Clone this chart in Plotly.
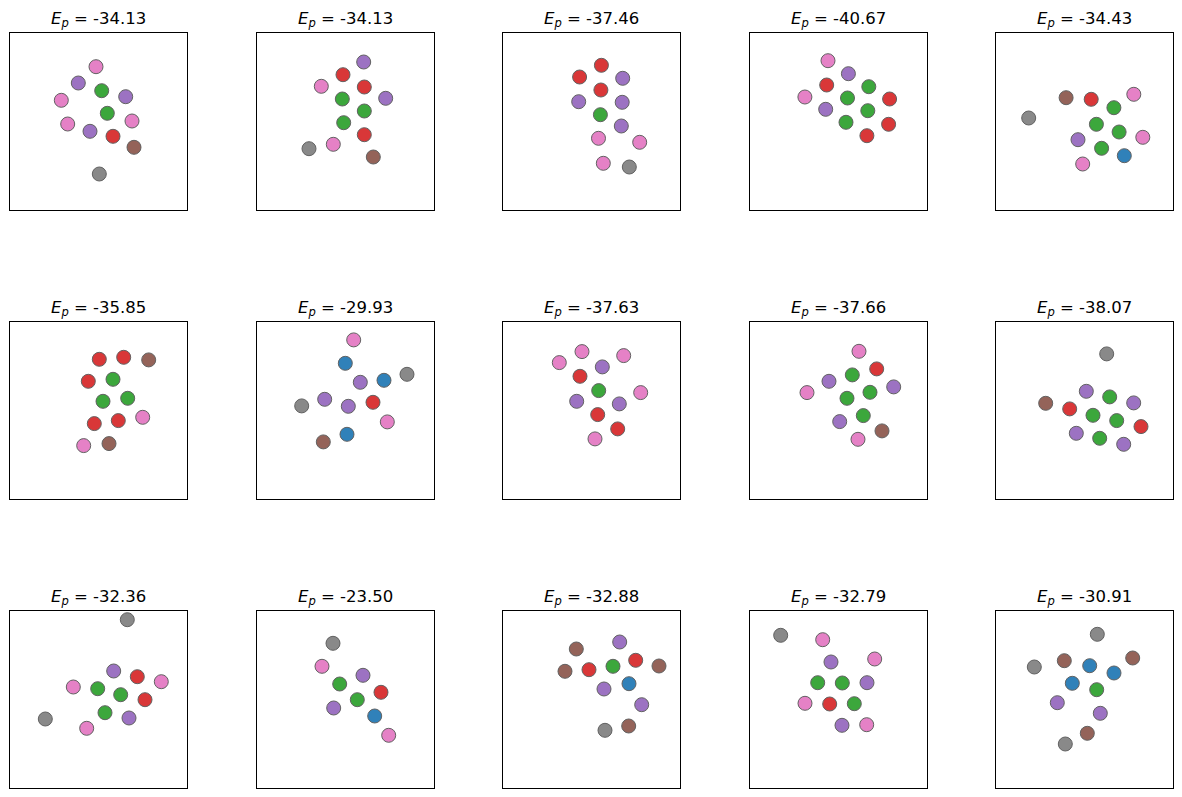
import plotly.graph_objects as go

# ---------------- data ----------------
energies = [-34.13, -34.13, -37.46, -40.67, -34.43,
            -35.85, -29.93, -37.63, -37.66, -38.07,
            -32.36, -23.50, -32.88, -32.79, -30.91]

# particle x positions per panel
panels_x = [
    [85.7, 68.0, 91.4, 115.4, 51.0, 97.0, 57.4, 121.7, 79.7, 102.7, 123.7, 89.0],
    [106.4, 85.7, 64.0, 107.0, 128.4, 85.0, 107.0, 86.4, 107.0, 76.0, 51.7, 116.0],
    [98.1, 76.3, 119.4, 97.6, 75.4, 118.9, 97.1, 118.0, 95.2, 136.4, 100.0, 126.0],
    [77.7, 98.1, 118.5, 76.4, 54.6, 97.2, 139.3, 75.4, 117.5, 95.7, 138.3, 116.6],
    [32.4, 69.8, 94.9, 137.5, 117.6, 100.1, 122.8, 146.5, 81.7, 105.3, 128.0, 86.4],
    [89.0, 113.4, 138.4, 78.0, 102.7, 92.7, 117.4, 132.4, 84.0, 108.0, 73.4, 98.7],
    [96.4, 88.0, 149.7, 103.0, 126.7, 67.4, 44.4, 91.0, 115.7, 130.0, 89.7, 66.0],
    [56.0, 78.7, 99.0, 120.4, 76.7, 95.4, 137.4, 73.4, 116.0, 94.4, 114.4, 91.7],
    [108.7, 126.4, 102.0, 78.7, 143.4, 56.7, 119.7, 96.7, 113.0, 89.4, 131.7, 107.7],
    [110.4, 90.0, 113.4, 137.4, 49.4, 73.4, 96.7, 120.4, 144.7, 80.0, 103.4, 127.4],
    [117.0, 103.4, 127.0, 151.0, 63.0, 87.4, 110.4, 134.7, 94.7, 118.7, 35.0, 76.4],
    [75.7, 64.7, 105.7, 82.4, 123.7, 100.0, 76.4, 117.4, 131.4],
    [116.4, 73.0, 132.4, 155.7, 109.7, 85.7, 61.7, 125.7, 100.7, 138.4, 125.4, 101.7],
    [30.4, 72.4, 124.4, 80.7, 67.4, 92.0, 116.7, 54.7, 79.4, 104.0, 91.7, 116.4],
    [101.0, 136.4, 68.0, 93.4, 38.0, 117.7, 76.0, 100.4, 61.0, 104.0, 91.0, 69.0],
]

# particle y positions per panel
panels_y = [
    [143.6, 127.3, 119.6, 113.6, 110.0, 97.0, 86.3, 89.3, 79.0, 74.0, 63.0, 36.3],
    [148.3, 135.6, 124.0, 123.3, 112.0, 111.3, 99.3, 87.6, 75.6, 66.0, 61.6, 53.3],
    [145.0, 133.3, 132.0, 120.3, 108.6, 108.0, 95.6, 84.3, 72.0, 68.0, 47.0, 43.3],
    [149.6, 136.6, 123.6, 125.3, 113.3, 112.3, 111.3, 101.0, 99.6, 88.0, 86.0, 74.6],
    [92.3, 112.6, 111.0, 116.0, 102.6, 86.0, 78.3, 73.0, 70.6, 62.0, 54.6, 46.3],
    [140.0, 142.0, 139.4, 118.0, 120.0, 98.0, 101.0, 82.0, 75.7, 78.7, 53.7, 55.7],
    [159.4, 136.0, 125.0, 117.0, 119.0, 100.0, 93.4, 93.0, 97.0, 77.4, 65.0, 57.4],
    [136.7, 147.7, 132.4, 143.7, 123.0, 108.7, 106.7, 98.0, 95.4, 84.7, 70.4, 60.4],
    [148.0, 130.4, 124.4, 118.0, 112.4, 106.7, 107.0, 101.0, 83.7, 77.7, 68.4, 60.0],
    [145.4, 108.0, 102.4, 96.4, 96.0, 90.4, 84.0, 78.7, 72.7, 66.0, 61.0, 55.0],
    [168.6, 117.3, 111.6, 106.6, 101.3, 99.6, 93.6, 88.6, 75.6, 70.3, 69.3, 60.0],
    [145.0, 122.0, 113.0, 104.3, 96.0, 88.6, 80.3, 72.3, 53.0],
    [146.3, 139.3, 128.0, 122.3, 122.0, 118.6, 117.0, 104.6, 99.3, 83.6, 62.3, 58.0],
    [153.0, 148.6, 129.3, 126.3, 105.6, 105.3, 105.6, 85.0, 84.3, 84.6, 63.0, 63.6],
    [154.0, 130.3, 127.6, 122.6, 121.3, 115.3, 105.0, 98.6, 85.6, 75.0, 55.0, 44.3],
]

# particle type per panel
panels_kind = [
    ["pink", "purple", "green", "purple", "pink", "green", "pink", "pink", "purple", "red", "brown", "gray"],
    ["purple", "red", "pink", "red", "purple", "green", "green", "green", "red", "pink", "gray", "brown"],
    ["red", "red", "purple", "red", "purple", "purple", "green", "purple", "pink", "pink", "pink", "gray"],
    ["pink", "purple", "green", "red", "pink", "green", "red", "purple", "green", "green", "red", "red"],
    ["gray", "brown", "red", "pink", "green", "green", "green", "pink", "purple", "green", "blue", "pink"],
    ["red", "red", "brown", "red", "green", "green", "green", "pink", "red", "red", "pink", "brown"],
    ["pink", "blue", "gray", "purple", "blue", "purple", "gray", "purple", "red", "pink", "blue", "brown"],
    ["pink", "pink", "purple", "pink", "red", "green", "pink", "purple", "purple", "red", "red", "pink"],
    ["pink", "red", "green", "purple", "purple", "pink", "green", "green", "green", "purple", "brown", "pink"],
    ["gray", "purple", "green", "purple", "brown", "red", "green", "green", "red", "purple", "green", "purple"],
    ["gray", "purple", "red", "pink", "pink", "green", "green", "red", "green", "purple", "gray", "pink"],
    ["gray", "pink", "purple", "green", "red", "green", "purple", "blue", "pink"],
    ["purple", "brown", "red", "brown", "green", "red", "brown", "blue", "purple", "purple", "brown", "gray"],
    ["gray", "pink", "pink", "purple", "green", "green", "purple", "pink", "red", "green", "purple", "pink"],
    ["gray", "brown", "brown", "blue", "gray", "blue", "blue", "green", "purple", "purple", "brown", "gray"],
]

# ---------------- styling / layout ----------------
palette = {
    "blue": "#1f77b4", "green": "#2ca02c", "red": "#d62728", "purple": "#9467bd",
    "brown": "#8c564b", "pink": "#e377c2", "gray": "#7f7f7f",
}

W, H = 1182, 797
col_left = [10.3, 257.3, 503.3, 750.3, 996.3]
row_top = [33.3, 322.3, 611.3]
pw, ph = 176.3, 177.0

fig = go.Figure()
annotations = []
layout_axes = {}

for i in range(15):
    r, c = divmod(i, 5)
    n = i + 1
    xa = "x" if n == 1 else f"x{n}"
    ya = "y" if n == 1 else f"y{n}"
    x0 = col_left[c] / W
    x1 = (col_left[c] + pw) / W
    y1 = 1 - row_top[r] / H
    y0 = 1 - (row_top[r] + ph) / H

    fig.add_trace(go.Scatter(
        x=panels_x[i], y=panels_y[i], mode="markers", xaxis=xa, yaxis=ya,
        showlegend=False, hoverinfo="skip", cliponaxis=True,
        marker=dict(size=14, color=[palette[k] for k in panels_kind[i]],
                    opacity=0.92, line=dict(color="#555555", width=1)),
    ))

    axcommon = dict(showgrid=False, zeroline=False, showticklabels=False,
                    ticks="", showline=True, mirror=True, linecolor="black",
                    linewidth=1, fixedrange=True)
    layout_axes[f"xaxis{'' if n == 1 else n}"] = dict(
        domain=[x0, x1], range=[0, pw], anchor=ya, **axcommon)
    layout_axes[f"yaxis{'' if n == 1 else n}"] = dict(
        domain=[y0, y1], range=[0, ph], anchor=xa, **axcommon)

    annotations.append(dict(
        xref="paper", yref="paper", x=(x0 + x1) / 2, y=y1,
        xanchor="center", yanchor="bottom", yshift=1, showarrow=False,
        text=f"<i>E</i><sub><i>p</i></sub> = {energies[i]:.2f}",
        font=dict(family="DejaVu Sans", size=16.5, color="black"),
    ))

fig.update_layout(
    width=W, height=H, margin=dict(l=0, r=0, t=0, b=0),
    paper_bgcolor="white", plot_bgcolor="white",
    annotations=annotations, **layout_axes,
)

fig.write_html("out.html", config={"displayModeBar": False})
